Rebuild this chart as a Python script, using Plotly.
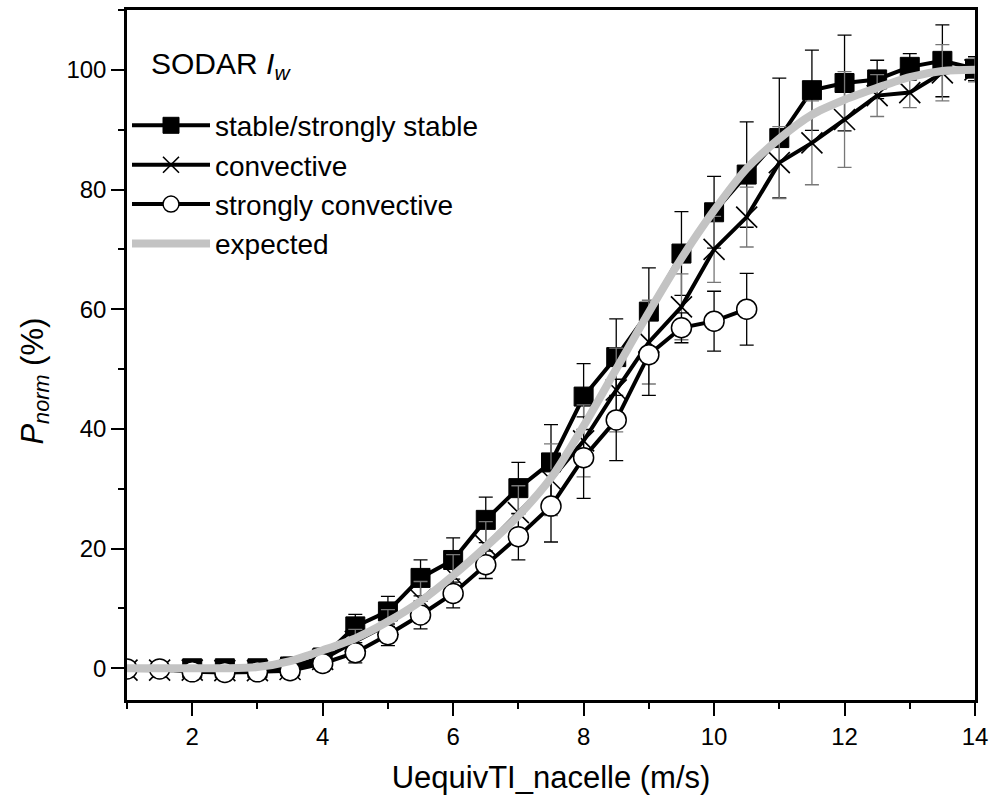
import plotly.graph_objects as go

# ---- data ----
x_stable = [2, 2.5, 3, 3.5, 4, 4.5, 5, 5.5, 6, 6.5, 7, 7.5, 8, 8.5, 9, 9.5, 10, 10.5, 11, 11.5, 12, 12.5, 13, 13.5, 14]
y_stable = [0, 0, 0, 0.3, 1.8, 7.0, 9.5, 15.1, 18.1, 24.8, 30.1, 34.4, 45.4, 52.0, 59.6, 69.3, 76.2, 82.5, 88.6, 96.6, 97.8, 98.4, 100.5, 101.5, 100.2]
e_stable = [1.0, 1.0, 1.0, 1.5, 1.5, 2.0, 2.5, 3.0, 3.7, 3.8, 4.3, 6.3, 5.5, 6.4, 7.3, 7.0, 6.0, 8.8, 10.0, 6.7, 8.0, 3.2, 2.2, 6.0, 2.0]

x_conv = [1, 1.5, 2, 2.5, 3, 3.5, 4, 4.5, 5, 5.5, 6, 6.5, 7, 7.5, 8, 8.5, 9, 9.5, 10, 10.5, 11, 11.5, 12, 12.5, 13, 13.5, 14]
y_conv = [-0.3, -0.3, -0.3, -0.4, -0.4, -0.2, 1.5, 4.5, 7.3, 11.5, 15.5, 20.5, 26.0, 31.5, 38.0, 46.5, 54.5, 60.4, 70.0, 75.4, 84.5, 87.8, 91.7, 95.7, 96.2, 99.5, 100.0]
e_conv = [1.0, 1.0, 1.0, 1.0, 1.0, 1.2, 1.5, 2.0, 2.5, 3.0, 3.5, 4.0, 4.5, 6.0, 6.0, 7.0, 7.0, 5.5, 5.5, 5.0, 6.0, 7.0, 8.0, 3.5, 2.5, 4.7, 2.0]

x_sconv = [1, 1.5, 2, 2.5, 3, 3.5, 4, 4.5, 5, 5.5, 6, 6.5, 7, 7.5, 8, 8.5, 9, 9.5, 10, 10.5]
y_sconv = [-0.1, -0.1, -0.6, -0.7, -0.6, -0.4, 0.8, 2.6, 5.6, 8.9, 12.5, 17.3, 22.0, 27.1, 35.2, 41.5, 52.4, 56.9, 58.0, 60.0]
e_sconv = [1.0, 1.0, 1.2, 1.2, 1.2, 1.2, 1.3, 1.7, 1.8, 2.3, 2.4, 2.3, 3.9, 6.0, 6.8, 6.8, 6.8, 2.5, 5.0, 6.0]

x_exp = [1, 1.5, 2, 2.5, 3, 3.5, 4, 4.5, 5, 5.5, 6, 6.5, 7, 7.5, 8, 8.5, 9, 9.5, 10, 10.5, 11, 11.5, 12, 12.5, 13, 13.5, 14]
y_exp = [0, 0, 0, 0, 0.2, 1.2, 3.0, 5.0, 7.8, 11.2, 15.5, 20.3, 25.5, 31.8, 40.5, 50.0, 59.5, 68.5, 76.5, 83.5, 88.5, 92.5, 95.0, 97.0, 98.8, 99.8, 100.0]

x_ticks = [2, 4, 6, 8, 10, 12, 14]
y_ticks = [0, 20, 40, 60, 80, 100]

FONT = "Liberation Sans, Arial, sans-serif"

# plot-area geometry (pixels)
W, H = 995, 804
ML, MR, MT, MB = 127, 18, 7, 104
PW, PH = W - ML - MR, H - MT - MB

fig = go.Figure()

fig.add_trace(go.Scatter(
    x=x_stable, y=y_stable, name="stable/strongly stable", mode="lines+markers",
    line=dict(color="black", width=4),
    marker=dict(symbol="square", size=19, color="black", line=dict(color="black", width=1)),
    error_y=dict(type="data", array=e_stable, color="black", thickness=1.3, width=7),
))
fig.add_trace(go.Scatter(
    x=x_conv, y=y_conv, name="convective", mode="lines+markers",
    line=dict(color="black", width=4),
    marker=dict(symbol="x-thin", size=21, color="black", line=dict(color="black", width=1.6)),
    error_y=dict(type="data", array=e_conv, color="#777777", thickness=1.3, width=7),
))
fig.add_trace(go.Scatter(
    x=x_sconv, y=y_sconv, name="strongly convective", mode="lines+markers",
    line=dict(color="black", width=4),
    marker=dict(symbol="circle", size=20, color="white", line=dict(color="black", width=1.5)),
    error_y=dict(type="data", array=e_sconv, color="black", thickness=1.3, width=7),
))
fig.add_trace(go.Scatter(
    x=x_exp, y=y_exp, name="expected", mode="lines",
    line=dict(color="#c3c3c3", width=8, shape="spline", smoothing=0.8),
))

fig.update_layout(
    width=W, height=H,
    margin=dict(l=ML, r=MR, t=MT, b=MB),
    paper_bgcolor="white", plot_bgcolor="white",
    font=dict(family=FONT, color="black", size=24),
    showlegend=True,
    legend=dict(
        x=0.0, y=1 - (98 - MT) / PH, xanchor="left", yanchor="top",
        bgcolor="rgba(0,0,0,0)", borderwidth=0,
        font=dict(size=28, family=FONT),
        itemwidth=78, tracegroupgap=0,
    ),
    xaxis=dict(
        range=[1, 14], tickvals=x_ticks, ticktext=[str(v) for v in x_ticks],
        ticks="outside", ticklen=13, tickwidth=2, tickcolor="black",
        minor=dict(dtick=1, tick0=1, ticks="outside", ticklen=6, tickwidth=2, tickcolor="black"),
        showline=True, linewidth=2.5, linecolor="black", mirror=True,
        showgrid=False, zeroline=False,
        tickfont=dict(size=24, family=FONT),
        title=dict(text="UequivTI_nacelle (m/s)", font=dict(size=31, family=FONT), standoff=18),
    ),
    yaxis=dict(
        range=[-5.3, 110], tickvals=y_ticks, ticktext=[str(v) for v in y_ticks],
        ticks="outside", ticklen=13, tickwidth=2, tickcolor="black",
        minor=dict(dtick=10, tick0=0, ticks="outside", ticklen=6, tickwidth=2, tickcolor="black"),
        showline=True, linewidth=2.5, linecolor="black", mirror=True,
        showgrid=False, zeroline=False,
        tickfont=dict(size=24, family=FONT),
    ),
    annotations=[
        dict(text="SODAR <i>I</i><sub><i>w</i></sub>", xref="paper", yref="paper",
             x=(149 - ML) / PW, y=1 - (63 - MT) / PH, xanchor="left", yanchor="middle",
             showarrow=False, font=dict(size=30, family=FONT)),
        dict(text="<i>P</i><sub><i>norm</i></sub> (%)", xref="paper", yref="paper",
             x=(35 - ML) / PW, y=1 - (380 - MT) / PH, xanchor="center", yanchor="middle",
             textangle=-90, showarrow=False, font=dict(size=31, family=FONT)),
    ],
)

fig.write_html("out.html")
